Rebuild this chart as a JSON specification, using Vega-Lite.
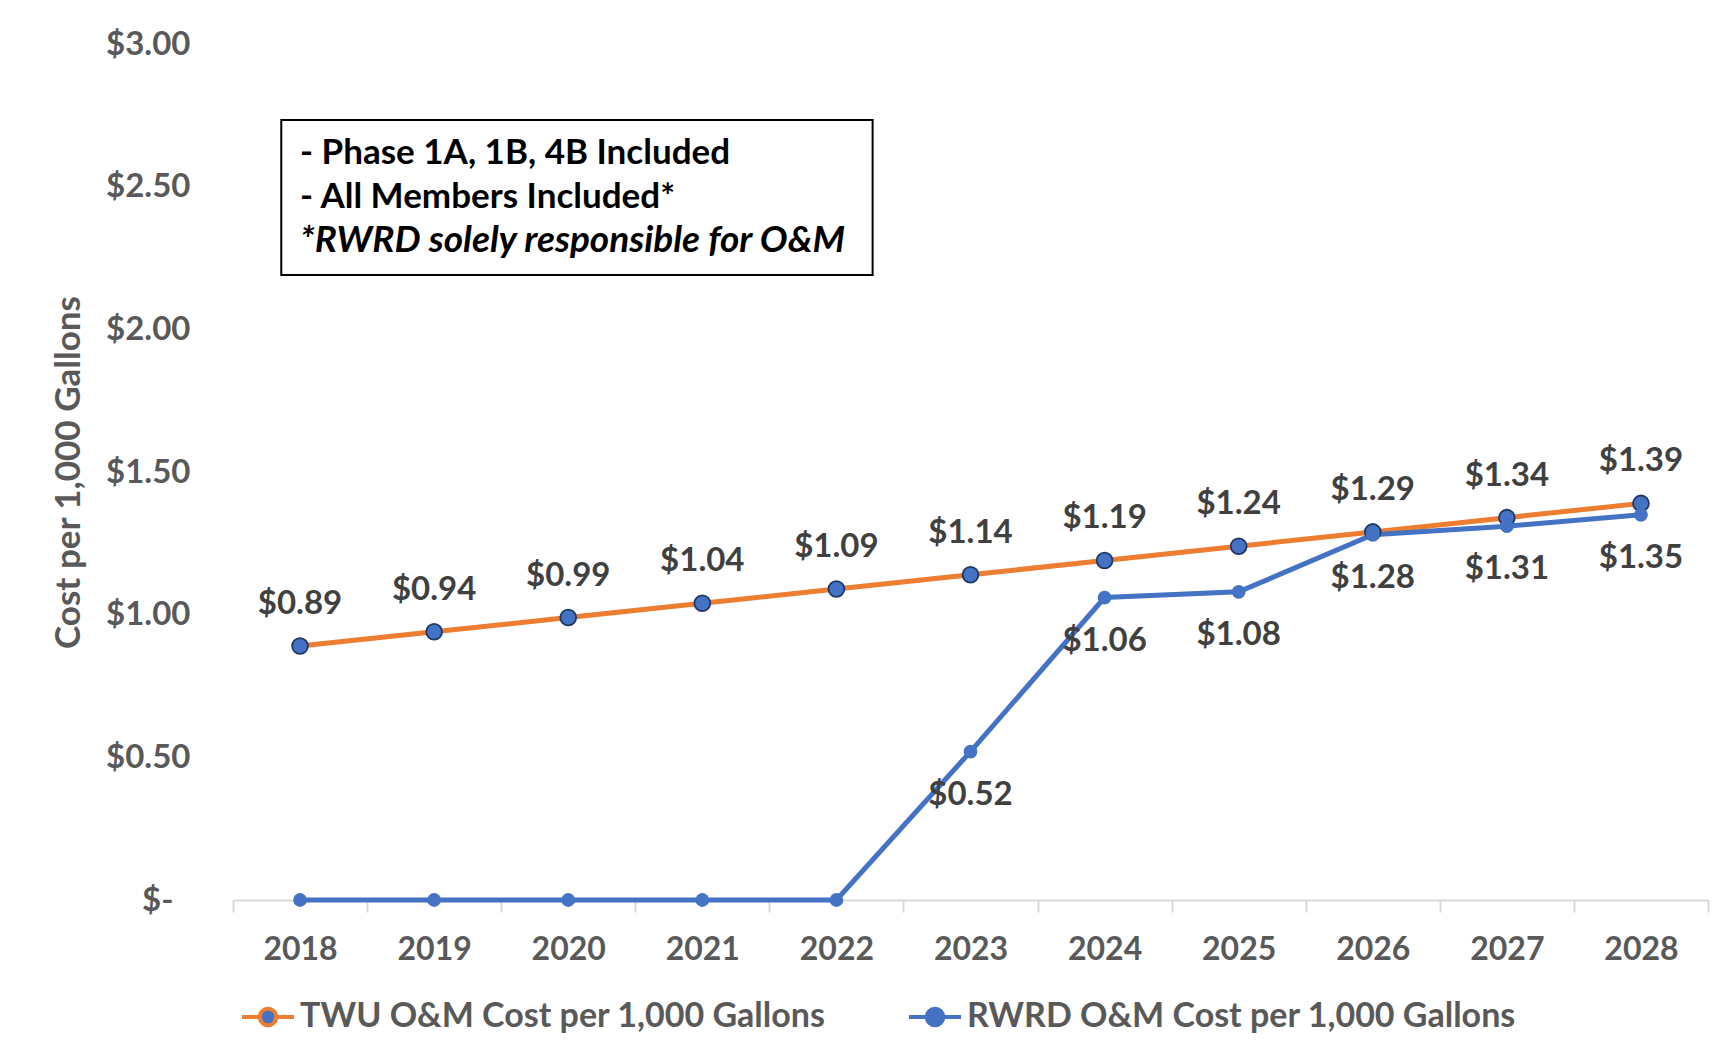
{
  "$schema": "https://vega.github.io/schema/vega-lite/v6.json",
  "width": 1475,
  "height": 856,
  "autosize": {"type": "none"},
  "padding": {"left": 233, "top": 44, "right": 19, "bottom": 160},
  "background": "white",
  "config": {"view": {"stroke": null}, "font": "Lato"},
  "datasets": {
    "costs": [
      {"year": 2018, "series": "TWU O&M Cost per 1,000 Gallons", "value": 0.89},
      {"year": 2019, "series": "TWU O&M Cost per 1,000 Gallons", "value": 0.94},
      {"year": 2020, "series": "TWU O&M Cost per 1,000 Gallons", "value": 0.99},
      {"year": 2021, "series": "TWU O&M Cost per 1,000 Gallons", "value": 1.04},
      {"year": 2022, "series": "TWU O&M Cost per 1,000 Gallons", "value": 1.09},
      {"year": 2023, "series": "TWU O&M Cost per 1,000 Gallons", "value": 1.14},
      {"year": 2024, "series": "TWU O&M Cost per 1,000 Gallons", "value": 1.19},
      {"year": 2025, "series": "TWU O&M Cost per 1,000 Gallons", "value": 1.24},
      {"year": 2026, "series": "TWU O&M Cost per 1,000 Gallons", "value": 1.29},
      {"year": 2027, "series": "TWU O&M Cost per 1,000 Gallons", "value": 1.34},
      {"year": 2028, "series": "TWU O&M Cost per 1,000 Gallons", "value": 1.39},
      {"year": 2018, "series": "RWRD O&M Cost per 1,000 Gallons", "value": 0},
      {"year": 2019, "series": "RWRD O&M Cost per 1,000 Gallons", "value": 0},
      {"year": 2020, "series": "RWRD O&M Cost per 1,000 Gallons", "value": 0},
      {"year": 2021, "series": "RWRD O&M Cost per 1,000 Gallons", "value": 0},
      {"year": 2022, "series": "RWRD O&M Cost per 1,000 Gallons", "value": 0},
      {"year": 2023, "series": "RWRD O&M Cost per 1,000 Gallons", "value": 0.52},
      {"year": 2024, "series": "RWRD O&M Cost per 1,000 Gallons", "value": 1.06},
      {"year": 2025, "series": "RWRD O&M Cost per 1,000 Gallons", "value": 1.08},
      {"year": 2026, "series": "RWRD O&M Cost per 1,000 Gallons", "value": 1.28},
      {"year": 2027, "series": "RWRD O&M Cost per 1,000 Gallons", "value": 1.31},
      {"year": 2028, "series": "RWRD O&M Cost per 1,000 Gallons", "value": 1.35}
    ],
    "note": [
      {"line": 1, "year": 2018.0, "value": 2.618, "text": "- Phase 1A, 1B, 4B Included"},
      {"line": 2, "year": 2018.0, "value": 2.464, "text": "- All Members Included*"},
      {"line": 3, "year": 2018.0, "value": 2.31, "text": "*RWRD solely responsible for O&M"}
    ],
    "box": [
      {"year": 2017.86, "year2": 2022.27, "value": 2.19, "value2": 2.734}
    ]
  },
  "layer": [
    {
      "data": {"name": "box"},
      "mark": {"type": "rect", "fill": "white", "stroke": "black", "strokeWidth": 2},
      "encoding": {
        "x": {"field": "year", "type": "quantitative", "scale": {"domain": [2017.5, 2028.5], "nice": false, "zero": false},
          "axis": {"orient": "bottom", "values": [2018, 2019, 2020, 2021, 2022, 2023, 2024, 2025, 2026, 2027, 2028], "format": "d", "title": null,
            "ticks": false, "grid": false, "domain": true, "domainColor": "#D9D9D9", "domainWidth": 2,
            "labelFont": "Lato", "labelFontWeight": "bold", "labelFontSize": 32, "labelColor": "#595959", "labelPadding": 34}},
        "x2": {"field": "year2"},
        "y": {"field": "value", "type": "quantitative", "scale": {"domain": [0, 3], "nice": false}, "title": "Cost per 1,000 Gallons",
          "axis": {"values": [0, 0.5, 1, 1.5, 2, 2.5, 3], "grid": false, "ticks": false, "domain": false,
            "labelExpr": "datum.value == 0 ? '$-' : '$' + format(datum.value, '.2f')",
            "labelFont": "Lato", "labelFontWeight": "bold", "labelFontSize": 33, "labelColor": "#595959",
            "labelPadding": {"condition": {"test": "datum.value == 0", "value": 60}, "value": 43},
            "titleFont": "Lato", "titleFontWeight": "bold", "titleFontSize": 35, "titleColor": "#595959",
            "titleX": -165, "titleY": 428, "titleAngle": -90, "titleAlign": "center", "titleBaseline": "middle"}},
        "y2": {"field": "value2"}
      }
    },
    {
      "data": {"name": "note"},
      "transform": [{"filter": "datum.line < 3"}],
      "mark": {"type": "text", "align": "left", "baseline": "middle", "font": "Lato", "fontWeight": "bold", "fontSize": 35, "color": "black"},
      "encoding": {
        "x": {"field": "year", "type": "quantitative", "axis": {"orient": "bottom", "values": [2017.5, 2018.5, 2019.5, 2020.5, 2021.5, 2022.5, 2023.5, 2024.5, 2025.5, 2026.5, 2027.5, 2028.5], "labels": false, "ticks": true, "tickSize": 12, "tickColor": "#D9D9D9", "tickWidth": 2, "domain": false, "grid": false, "title": null}},
        "y": {"field": "value", "type": "quantitative", "title": "Cost per 1,000 Gallons"},
        "text": {"field": "text"}
      }
    },
    {
      "data": {"name": "note"},
      "transform": [{"filter": "datum.line == 3"}],
      "mark": {"type": "text", "align": "left", "baseline": "middle", "font": "Lato", "fontWeight": "bold", "fontStyle": "italic", "fontSize": 37, "color": "black"},
      "encoding": {
        "x": {"field": "year", "type": "quantitative", "axis": null},
        "y": {"field": "value", "type": "quantitative", "title": "Cost per 1,000 Gallons"},
        "text": {"field": "text"}
      }
    },
    {
      "data": {"name": "costs"},
      "mark": {"type": "line", "strokeWidth": 5},
      "encoding": {
        "x": {"field": "year", "type": "quantitative", "axis": null},
        "y": {"field": "value", "type": "quantitative", "title": "Cost per 1,000 Gallons"},
        "stroke": {"field": "series", "type": "nominal",
          "scale": {"domain": ["TWU O&M Cost per 1,000 Gallons", "RWRD O&M Cost per 1,000 Gallons"], "range": ["#ED7D31", "#4472C4"]},
          "legend": {"title": null, "orient": "none", "direction": "horizontal", "legendX": 7, "legendY": 945,
            "symbolType": "M-1,0L-0.32,0M0.32,0L1,0M0.32,0A0.32,0.32,0,1,1,-0.32,0A0.32,0.32,0,1,1,0.32,0Z",
            "symbolSize": 2704, "symbolStrokeWidth": 4, "symbolFillColor": "#4472C4",
            "labelFont": "Lato", "labelFontWeight": "bold", "labelFontSize": 34, "labelColor": "#595959", "labelOffset": 4,
            "columnPadding": 75, "labelLimit": 800,
            "encode": {"symbols": {"update": {"fill": {"value": "#4472C4"}}}}}}
      }
    },
    {
      "data": {"name": "costs"},
      "transform": [{"filter": "datum.series == 'TWU O&M Cost per 1,000 Gallons'"}],
      "mark": {"type": "point", "shape": "circle", "filled": true, "size": 250, "fill": "#4472C4", "stroke": "#1F3864", "strokeWidth": 1.8, "opacity": 1},
      "encoding": {
        "x": {"field": "year", "type": "quantitative", "axis": null},
        "y": {"field": "value", "type": "quantitative", "title": "Cost per 1,000 Gallons"}
      }
    },
    {
      "data": {"name": "costs"},
      "transform": [{"filter": "datum.series == 'RWRD O&M Cost per 1,000 Gallons'"}],
      "mark": {"type": "point", "shape": "circle", "filled": true, "size": 190, "fill": "#4472C4", "strokeWidth": 0, "opacity": 1},
      "encoding": {
        "x": {"field": "year", "type": "quantitative", "axis": null},
        "y": {"field": "value", "type": "quantitative", "title": "Cost per 1,000 Gallons"}
      }
    },
    {
      "data": {"name": "costs"},
      "transform": [{"filter": "datum.series == 'TWU O&M Cost per 1,000 Gallons'"}],
      "mark": {"type": "text", "dy": -42, "baseline": "middle", "font": "Lato", "fontWeight": "bold", "fontSize": 33, "color": "#404040"},
      "encoding": {
        "x": {"field": "year", "type": "quantitative", "axis": null},
        "y": {"field": "value", "type": "quantitative", "title": "Cost per 1,000 Gallons"},
        "text": {"field": "value", "type": "quantitative", "format": "$.2f"}
      }
    },
    {
      "data": {"name": "costs"},
      "transform": [{"filter": "datum.series == 'RWRD O&M Cost per 1,000 Gallons' && datum.value > 0"}],
      "mark": {"type": "text", "dy": 43, "baseline": "middle", "font": "Lato", "fontWeight": "bold", "fontSize": 33, "color": "#404040"},
      "encoding": {
        "x": {"field": "year", "type": "quantitative", "axis": null},
        "y": {"field": "value", "type": "quantitative", "title": "Cost per 1,000 Gallons"},
        "text": {"field": "value", "type": "quantitative", "format": "$.2f"}
      }
    }
  ],
  "resolve": {"axis": {"x": "independent"}}
}
